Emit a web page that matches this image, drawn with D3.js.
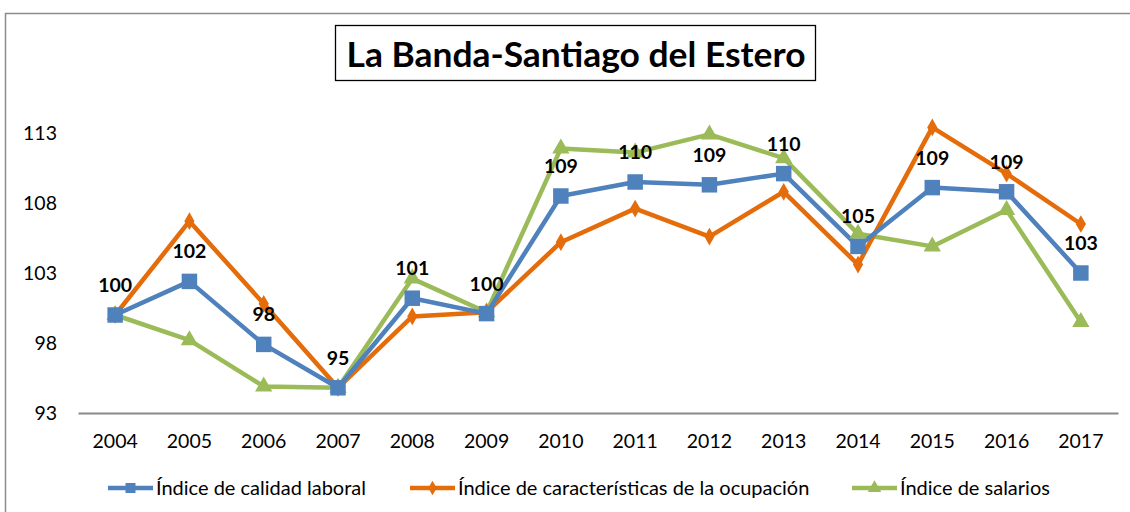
<!DOCTYPE html>
<html>
<head>
<meta charset="utf-8">
<script src="https://cdn.jsdelivr.net/npm/d3@7"></script>
<style>
  body { margin: 0; background: #fff; }
  svg { display: block; font-family: Lato, "Open Sans", sans-serif; }
</style>
</head>
<body>
<div id="chart"></div>
<script>
// data
var years = ["2004", "2005", "2006", "2007", "2008", "2009", "2010", "2011", "2012", "2013", "2014", "2015", "2016", "2017"];
var calidad = [100, 102.4, 97.9, 94.8, 101.2, 100.1, 108.5, 109.5, 109.3, 110.1, 104.9, 109.1, 108.8, 103.0];
var ocupacion = [100, 106.7, 100.8, 94.8, 99.9, 100.2, 105.2, 107.6, 105.6, 108.8, 103.6, 113.4, 110.1, 106.5];
var salarios = [100, 98.2, 94.9, 94.8, 102.6, 100.2, 111.9, 111.6, 112.9, 111.2, 105.8, 104.9, 107.5, 99.5];
var calidadLabels = ["100", "102", "98", "95", "101", "100", "109", "110", "109", "110", "105", "109", "109", "103"];
var yTicks = [93, 98, 103, 108, 113];
var seriesNames = ["Índice de calidad laboral", "Índice de características de la ocupación", "Índice de salarios"];

var W = 1130, H = 512;
var margin = { top: 133, right: 12, bottom: 99, left: 78 },
    width = W - margin.left - margin.right,
    height = H - margin.top - margin.bottom;

var svg = d3.select("#chart").append("svg")
    .attr("width", W)
    .attr("height", H);

// outer frame
svg.append("rect")
    .attr("x", 5.5).attr("y", 13.5)
    .attr("width", W).attr("height", H)
    .attr("fill", "none")
    .attr("stroke", "#8c8c8c")
    .attr("stroke-width", 1.5);

// title
svg.append("rect")
    .attr("x", 335.5).attr("y", 25.5)
    .attr("width", 480).attr("height", 55)
    .attr("fill", "#fff")
    .attr("stroke", "#000")
    .attr("stroke-width", 1.3);
svg.append("text")
    .attr("x", 576).attr("y", 67)
    .attr("text-anchor", "middle")
    .attr("font-size", 34)
    .attr("font-weight", "bold")
    .attr("textLength", 459)
    .attr("lengthAdjust", "spacingAndGlyphs")
    .text("La Banda-Santiago del Estero");

var g = svg.append("g")
    .attr("transform", "translate(" + margin.left + "," + margin.top + ")");

var x = d3.scaleBand().domain(years).range([0, 1040]);
var y = d3.scaleLinear().domain([93, 113]).range([280, 0]);
function cx(i) { return x(years[i]) + x.bandwidth() / 2; }

// y axis labels (no line)
var yAxis = g.append("g")
    .call(d3.axisLeft(y).tickValues(yTicks).tickSize(0).tickPadding(21));
yAxis.select(".domain").remove();
yAxis.selectAll("text")
    .attr("font-family", "Lato, 'Open Sans', sans-serif")
    .attr("font-size", 19.5)
    .attr("fill", "#000");

// x axis
var xAxis = g.append("g")
    .attr("transform", "translate(0,280)")
    .call(d3.axisBottom(x).tickSize(0).tickPadding(21));
xAxis.select(".domain")
    .attr("stroke", "#8a8a8a")
    .attr("stroke-width", 2);
xAxis.selectAll("text")
    .attr("font-family", "Lato, 'Open Sans', sans-serif")
    .attr("font-size", 19.5)
    .attr("fill", "#000");

var colors = ["#4f81bd", "#e46c0a", "#9bbb59"];
var allSeries = [calidad, ocupacion, salarios];

var line = d3.line()
    .x(function (d, i) { return cx(i); })
    .y(function (d) { return y(d); });

var order = [2, 1, 0];
var symbols = [
    d3.symbol().type(d3.symbolSquare).size(240),
    d3.symbol().type(d3.symbolDiamond).size(90),
    d3.symbol().type(d3.symbolTriangle).size(130)
];

order.forEach(function (s) {
    g.append("path")
        .datum(allSeries[s])
        .attr("fill", "none")
        .attr("stroke", colors[s])
        .attr("stroke-width", 4.5)
        .attr("stroke-linejoin", "round")
        .attr("d", line);
});
order.forEach(function (s) {
    g.selectAll(".m" + s)
        .data(allSeries[s])
        .enter().append("path")
        .attr("class", "m" + s)
        .attr("transform", function (d, i) { return "translate(" + cx(i) + "," + y(d) + ")"; })
        .attr("d", symbols[s]())
        .attr("fill", colors[s]);
});

// data labels for calidad laboral
g.selectAll(".lbl")
    .data(calidad)
    .enter().append("text")
    .attr("class", "lbl")
    .attr("x", function (d, i) { return cx(i); })
    .attr("y", function (d) { return y(d) - 23; })
    .attr("text-anchor", "middle")
    .attr("font-size", 19.5)
    .attr("font-weight", "bold")
    .attr("fill", "#000")
    .text(function (d, i) { return calidadLabels[i]; });

// legend
var legendX = [108, 410, 852];
var legend = svg.append("g").attr("transform", "translate(0,488)");
seriesNames.forEach(function (name, s) {
    var lg = legend.append("g").attr("transform", "translate(" + legendX[s] + ",0)");
    lg.append("line")
        .attr("x1", 0).attr("x2", 45)
        .attr("stroke", colors[s])
        .attr("stroke-width", 4.5);
    lg.append("path")
        .attr("transform", "translate(22.5,0)")
        .attr("d", d3.symbol().type([d3.symbolSquare, d3.symbolDiamond, d3.symbolTriangle][s]).size([100, 60, 80][s])())
        .attr("fill", colors[s]);
    lg.append("text")
        .attr("x", 48).attr("y", 7)
        .attr("font-size", 20)
        .attr("fill", "#000")
        .text(name);
});
</script>
</body>
</html>
